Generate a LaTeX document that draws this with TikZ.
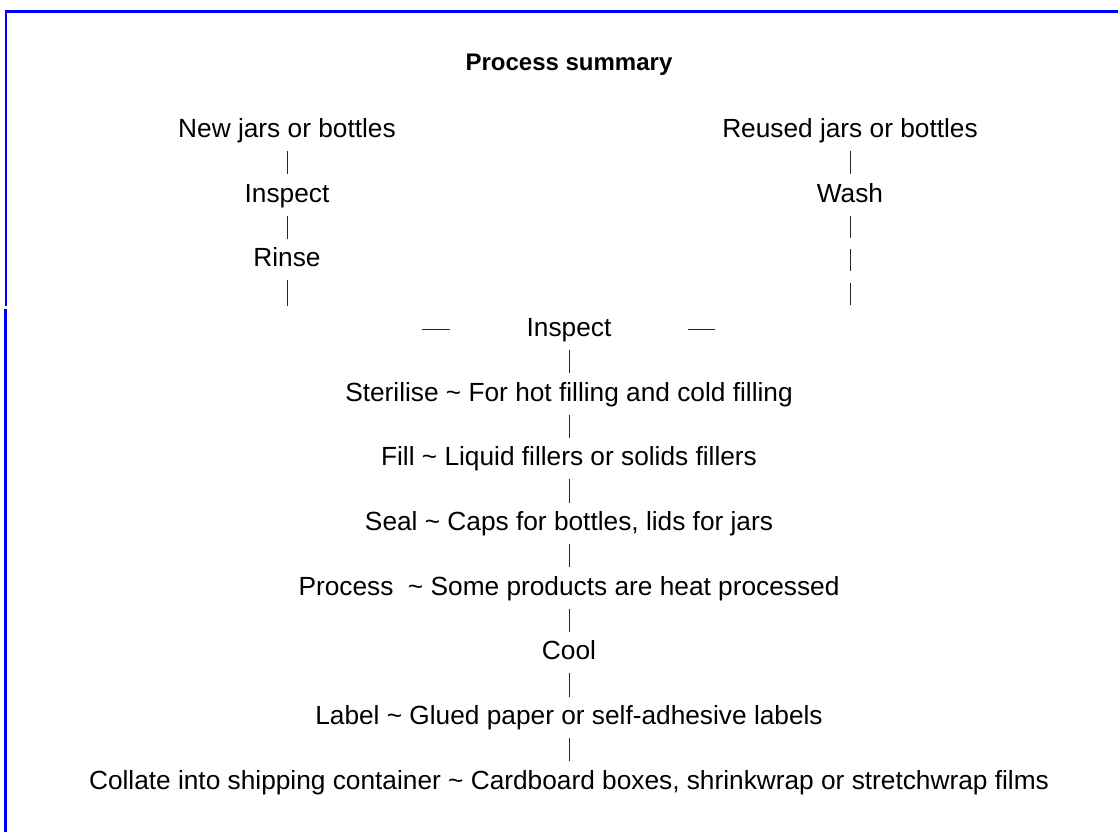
\documentclass[tikz,border=0pt]{standalone}
\usepackage{fontspec}
\setmainfont{Liberation Sans}
\usepackage{tikz}
\usetikzlibrary{positioning}
\definecolor{frameblue}{RGB}{0,0,255}
\tikzstyle{stage} = [inner sep=0pt, 
text height=14.1pt, 
text depth=0pt, 
font=\fontsize{19.7}{23}\selectfont]
\tikzstyle{heading} = [inner sep=0pt, 
text height=12.9pt, 
text depth=0pt, 
font=\fontsize{18}{22}\selectfont\bfseries]
\tikzstyle{link} = [line width=0.7pt, draw=black!85, shorten <=10pt, shorten >=6.5pt]
\tikzstyle{tail} = [line width=0.7pt, draw=black!85, shorten <=10pt, shorten >=17.5pt]
\tikzstyle{dashtail} = [tail, dash pattern=on 16.5pt off 8.6pt]
\tikzstyle{joinbar} = [line width=0.7pt, draw=black!85, shorten <=101pt, shorten >=57pt]
\tikzstyle{frame} = [draw=frameblue, line width=1.5pt]

\begin{document}
\begin{tikzpicture}[x=0.75pt, y=-0.75pt, node distance=48.5pt]
\useasboundingbox (0,0) rectangle (1118,832);

\draw [frame, line width=1.9pt] (1118,11.3) -- (5,11.3);
\draw [frame] (6,10) -- (6,305.7);
\draw [frame, line width=2.25pt] (5.5,309) -- (5.5,832);

\node (title) [heading] at (569,62) {Process summary};

\node (newjar) [stage] at (287,128) {New jars or bottles};
\node (inspnew) [stage, below of=newjar] {Inspect};
\node (rinse) [stage, below of=inspnew] {Rinse};

\node (reused) [stage] at (850,128) {Reused jars or bottles};
\node (wash) [stage, below of=reused] {Wash};

\coordinate (ljoin) at (287,329);
\coordinate (rjoin) at (850,329);

\node (inspect) [stage] at (569,327) {Inspect};
\node (sterilise) [stage, below of=inspect] {Sterilise \textasciitilde{} For hot filling and cold filling};
\node (fill) [stage, below of=sterilise] {Fill \textasciitilde{} Liquid fillers or solids fillers};
\node (seal) [stage, below of=fill] {Seal \textasciitilde{} Caps for bottles, lids for jars};
\node (process) [stage, below of=seal] {Process\ \ \textasciitilde{} Some products are heat processed};
\node (cool) [stage, below of=process] {Cool};
\node (label) [stage, below of=cool] {Label \textasciitilde{} Glued paper or self-adhesive labels};
\node (collate) [stage, below of=label] {Collate into shipping container \textasciitilde{} Cardboard boxes, shrinkwrap or stretchwrap films};

\draw [link] (newjar) -- (inspnew);
\draw [link] (inspnew) -- (rinse);
\draw [tail] (rinse) -- (ljoin);
\draw [link] (reused) -- (wash);
\draw [dashtail] (wash) -- (rjoin);
\draw [joinbar] (ljoin) -- (ljoin -| inspect.west);
\draw [joinbar] (rjoin) -- (rjoin -| inspect.east);
\draw [link] (inspect) -- (sterilise);
\draw [link] (sterilise) -- (fill);
\draw [link] (fill) -- (seal);
\draw [link] (seal) -- (process);
\draw [link] (process) -- (cool);
\draw [link] (cool) -- (label);
\draw [link] (label) -- (collate);

\end{tikzpicture}
\end{document}
